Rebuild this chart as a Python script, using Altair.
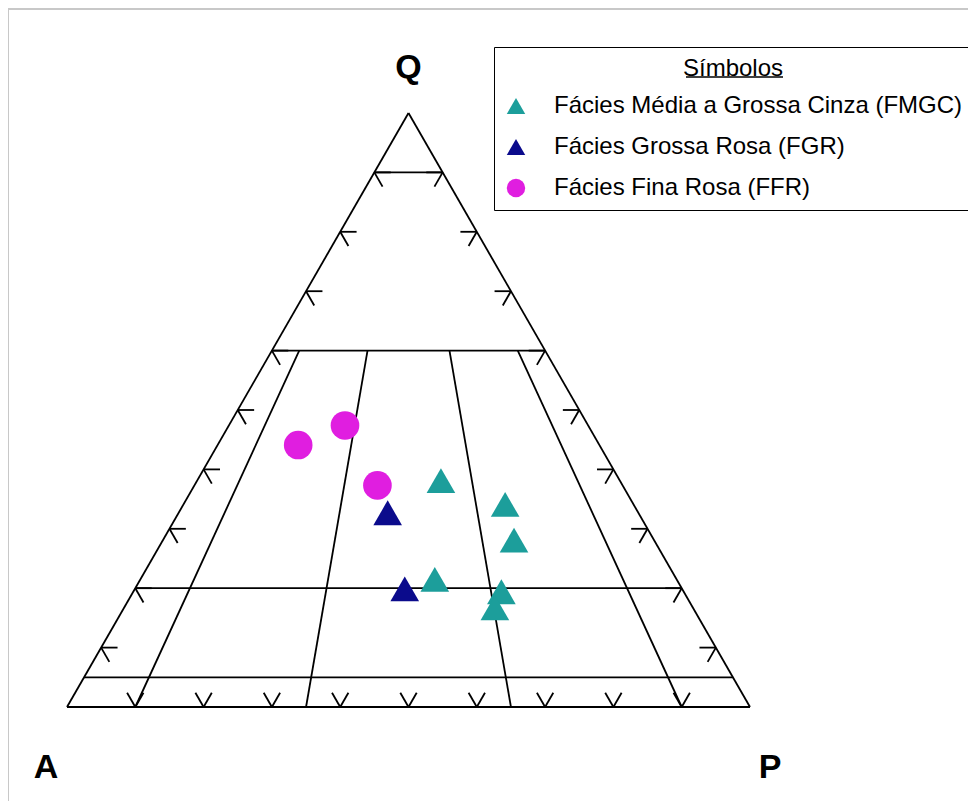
import altair as alt
import pandas as pd
import numpy as np

# ---------------- data (modal %) ----------------
group_names = [
    "Fácies Média a Grossa Cinza (FMGC)",
    "Fácies Grossa Rosa (FGR)",
    "Fácies Fina Rosa (FFR)",
]
sample_group = [0, 0, 0, 0, 0, 0, 1, 1, 2, 2, 2]
Q = [38.1, 34.1, 28.1, 21.5, 19.4, 16.7, 32.7, 19.9, 44.1, 47.4, 37.3]
A = [26.2, 18.8, 20.5, 35.4, 26.7, 29.0, 36.7, 40.6, 44.1, 35.6, 35.9]
P = [35.7, 47.1, 51.4, 43.1, 53.9, 54.3, 30.6, 39.5, 11.8, 17.0, 26.8]

# Streckeisen QAP field boundaries
q_levels = [90, 60, 20, 5]            # horizontal Q lines
ratio_levels = [10, 35, 65, 90]        # 100*P/(A+P) lines, from Q=0 to Q=60
ratio_top_q = 60
tick_levels = [10, 20, 30, 40, 50, 60, 70, 80, 90]

vertex_labels = ["Q", "A", "P"]

# ---------------- styling / layout ----------------
W, H = 960, 793
TRI_LEFT_PX, TRI_W_PX = 59, 683        # base-left corner x, base width (px)
BASE_PX, TRI_H_PX = 699, 594           # base y, triangle height (px)
TICK = 0.024                           # tick arm length (ternary fraction)
colors = ["#1c9e9b", "#0b0b8c", "#e01ee0"]
shapes = ["triangle-up", "triangle-up", "circle"]
POINT_SIZE = 820
FONT = "Liberation Sans"

xdom = [-TRI_LEFT_PX / TRI_W_PX, (W - TRI_LEFT_PX) / TRI_W_PX]
ydom = [-(H - BASE_PX) / TRI_H_PX, BASE_PX / TRI_H_PX]


def tern(q, p):
    """ternary (fractions) -> cartesian (X along base, Y = q)"""
    return p + q / 2.0, q


segs = []


def seg(q1, p1, q2, p2, kind="line"):
    x1, y1 = tern(q1, p1)
    x2, y2 = tern(q2, p2)
    segs.append(dict(x=x1, y=y1, x2=x2, y2=y2, kind=kind))


# triangle edges
seg(0, 0, 0, 1)
seg(0, 0, 1, 0)
seg(0, 1, 1, 0)
# horizontal Q lines
for ql in q_levels:
    q = ql / 100
    seg(q, 0, q, 1 - q)
# P/(A+P) lines
for r in ratio_levels:
    r = r / 100
    qt = ratio_top_q / 100
    seg(0, r, qt, r * (1 - qt))
# ticks
t = TICK
for lv in tick_levels:
    v = lv / 100
    # left edge (p=0): horizontal inward + down-right (constant A)
    seg(v, 0, v, t, "tick")
    seg(v, 0, v - t, t, "tick")
    # right edge (a=0): horizontal inward + down-left (constant P)
    seg(v, 1 - v, v, 1 - v - t, "tick")
    seg(v, 1 - v, v - t, 1 - v, "tick")
    # base (q=0): up-right (constant P) + up-left (constant A)
    seg(0, v, t, v, "tick")
    seg(0, v, t, v - t, "tick")

seg_df = pd.DataFrame(segs)

pts = []
for g, q, a, p in zip(sample_group, Q, A, P):
    tot = q + a + p
    x, y = tern(q / tot, p / tot)
    pts.append(dict(x=x, y=y, grupo=group_names[g]))
pt_df = pd.DataFrame(pts)

lab_df = pd.DataFrame(
    dict(
        label=vertex_labels,
        x=[0.5, -0.0307, 1.0293],
        y=[1.0758, -0.1027, -0.1027],
    )
)

xs = alt.Scale(domain=xdom, nice=False, zero=False)
ys = alt.Scale(domain=ydom, nice=False, zero=False)

lines = alt.Chart(seg_df).mark_rule(color="black", strokeWidth=1.8).encode(
    x=alt.X("x:Q", scale=xs, axis=None),
    y=alt.Y("y:Q", scale=ys, axis=None),
    x2="x2:Q",
    y2="y2:Q",
)

legend = alt.Legend(
    orient="none",
    legendX=486,
    legendY=39,
    title="Símbolos",
    titleFont=FONT,
    titleFontSize=24,
    titleFontWeight="normal",
    titleColor="black",
    titleAnchor="middle",
    titlePadding=13,
    labelFont=FONT,
    labelFontSize=24,
    labelColor="black",
    labelLimit=800,
    labelOffset=26,
    symbolSize=340,
    symbolStrokeWidth=0,
    symbolOpacity=1,
    rowPadding=17,
    padding=10,
    strokeColor="black",
)

points = alt.Chart(pt_df).mark_point(
    filled=True, opacity=1, strokeWidth=0, size=POINT_SIZE
).encode(
    x=alt.X("x:Q", scale=xs, axis=None),
    y=alt.Y("y:Q", scale=ys, axis=None),
    color=alt.Color(
        "grupo:N",
        scale=alt.Scale(domain=group_names, range=colors),
        legend=legend,
    ),
    shape=alt.Shape(
        "grupo:N", scale=alt.Scale(domain=group_names, range=shapes), legend=legend
    ),
)

labels = alt.Chart(lab_df).mark_text(
    font=FONT, fontSize=34, fontWeight="bold", color="black",
    align="center", baseline="middle",
).encode(
    x=alt.X("x:Q", scale=xs, axis=None),
    y=alt.Y("y:Q", scale=ys, axis=None),
    text="label:N",
)

# decorative frame (top & left) and title underline
frame_top = alt.Chart(pd.DataFrame({"k": [0]})).mark_rule(
    color="#c8c8c8", strokeWidth=2
).encode(x=alt.value(0), x2=alt.value(W), y=alt.value(1))
frame_left = alt.Chart(pd.DataFrame({"k": [0]})).mark_rule(
    color="#c8c8c8", strokeWidth=2
).encode(x=alt.value(0), y=alt.value(1), y2=alt.value(H))
underline = alt.Chart(pd.DataFrame({"k": [0]})).mark_rule(
    color="black", strokeWidth=1.3
).encode(x=alt.value(678), x2=alt.value(775), y=alt.value(69))

chart = (
    alt.layer(frame_top, frame_left, lines, points, labels, underline)
    .properties(width=W, height=H, autosize=alt.AutoSizeParams(type="none"), padding=0)
    .configure_view(stroke=None)
)

chart.save("out.html", embed_options={"renderer": "svg", "actions": False})
